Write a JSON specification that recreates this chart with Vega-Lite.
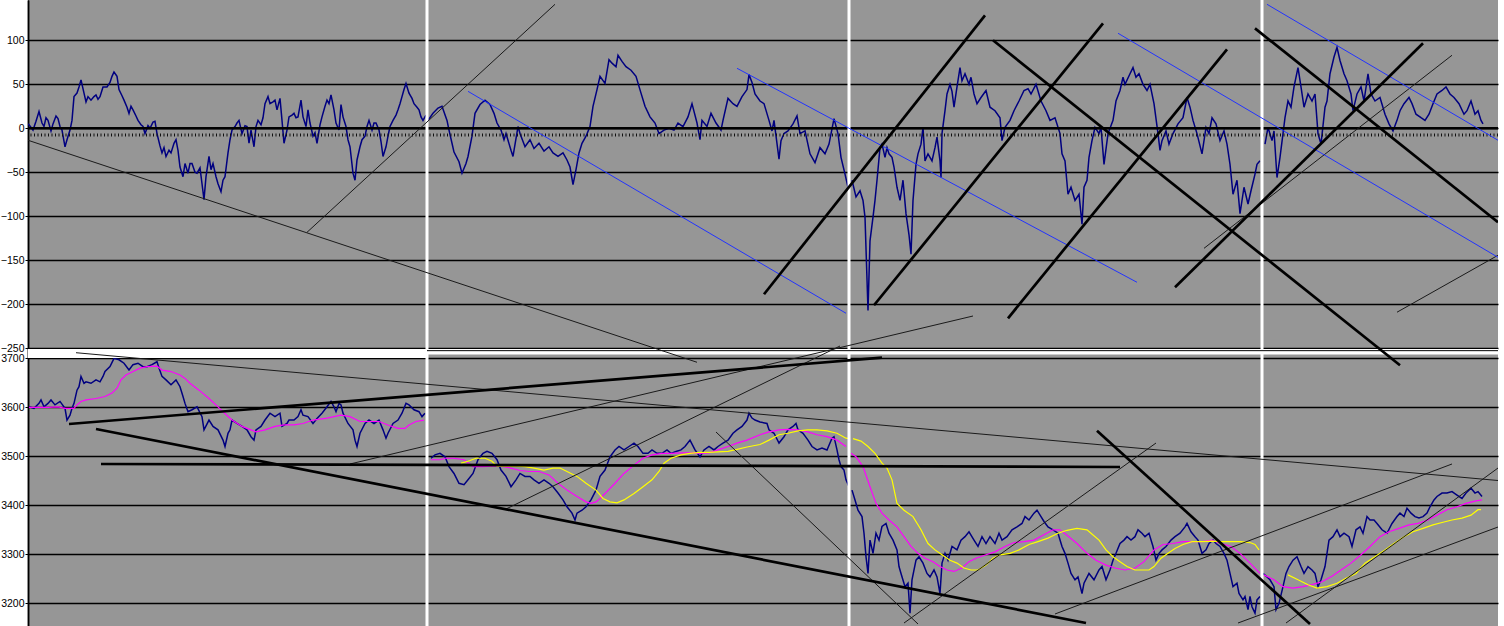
{
"$schema": "https://vega.github.io/schema/vega-lite/v6.json",
"width": 1470, "height": 626,
"autosize": {"type": "none"},
"padding": {"left": 28, "top": 0, "right": 6, "bottom": 0},
"background": "white",
"config": {"view": {"fill": "#969696", "stroke": null}},
"datasets": {
"osc": [
{"t":0,"v":5,"g":1},{"t":1,"v":4,"g":1},{"t":5,"v":-2,"g":1},{"t":8,"v":8,"g":1},{"t":11,"v":19,"g":1},{"t":14,"v":6,"g":1},{"t":16,"v":2,"g":1},{"t":18,"v":12,"g":1},{"t":20,"v":9,"g":1},{"t":23,"v":-3,"g":1},{"t":25,"v":5,"g":1},{"t":28,"v":14,"g":1},{"t":30,"v":11,"g":1},{"t":32,"v":2,"g":1},{"t":34,"v":-2,"g":1},{"t":37,"v":-21,"g":1},{"t":39,"v":-13,"g":1},{"t":42,"v":-2,"g":1},{"t":44,"v":9,"g":1},{"t":46,"v":36,"g":1},{"t":49,"v":40,"g":1},{"t":51,"v":47,"g":1},{"t":53,"v":55,"g":1},{"t":56,"v":40,"g":1},{"t":58,"v":30,"g":1},{"t":60,"v":36,"g":1},{"t":63,"v":32,"g":1},{"t":66,"v":36,"g":1},{"t":68,"v":38,"g":1},{"t":70,"v":33,"g":1},{"t":72,"v":36,"g":1},{"t":75,"v":47,"g":1},{"t":79,"v":47,"g":1},{"t":82,"v":52,"g":1},{"t":84,"v":59,"g":1},{"t":86,"v":64,"g":1},{"t":89,"v":59,"g":1},{"t":91,"v":44,"g":1},{"t":94,"v":37,"g":1},{"t":96,"v":32,"g":1},{"t":99,"v":24,"g":1},{"t":101,"v":17,"g":1},{"t":103,"v":25,"g":1},{"t":105,"v":21,"g":1},{"t":108,"v":14,"g":1},{"t":110,"v":9,"g":1},{"t":113,"v":4,"g":1},{"t":115,"v":2,"g":1},{"t":117,"v":-6,"g":1},{"t":120,"v":3,"g":1},{"t":122,"v":0,"g":1},{"t":125,"v":7,"g":1},{"t":127,"v":8,"g":1},{"t":129,"v":-6,"g":1},{"t":132,"v":-20,"g":1},{"t":134,"v":-28,"g":1},{"t":136,"v":-22,"g":1},{"t":138,"v":-32,"g":1},{"t":141,"v":-25,"g":1},{"t":143,"v":-28,"g":1},{"t":146,"v":-17,"g":1},{"t":148,"v":-13,"g":1},{"t":150,"v":-25,"g":1},{"t":152,"v":-44,"g":1},{"t":155,"v":-55,"g":1},{"t":157,"v":-40,"g":1},{"t":160,"v":-51,"g":1},{"t":162,"v":-40,"g":1},{"t":164,"v":-40,"g":1},{"t":167,"v":-50,"g":1},{"t":169,"v":-51,"g":1},{"t":172,"v":-45,"g":1},{"t":174,"v":-63,"g":1},{"t":176,"v":-81,"g":1},{"t":178,"v":-55,"g":1},{"t":181,"v":-32,"g":1},{"t":183,"v":-47,"g":1},{"t":185,"v":-40,"g":1},{"t":188,"v":-55,"g":1},{"t":190,"v":-63,"g":1},{"t":193,"v":-72,"g":1},{"t":195,"v":-59,"g":1},{"t":197,"v":-55,"g":1},{"t":200,"v":-28,"g":1},{"t":202,"v":-13,"g":1},{"t":204,"v":-2,"g":1},{"t":207,"v":2,"g":1},{"t":209,"v":6,"g":1},{"t":211,"v":9,"g":1},{"t":214,"v":-6,"g":1},{"t":217,"v":3,"g":1},{"t":219,"v":2,"g":1},{"t":221,"v":-17,"g":1},{"t":223,"v":-2,"g":1},{"t":226,"v":-21,"g":1},{"t":228,"v":2,"g":1},{"t":230,"v":9,"g":1},{"t":233,"v":4,"g":1},{"t":235,"v":12,"g":1},{"t":237,"v":28,"g":1},{"t":240,"v":36,"g":1},{"t":242,"v":28,"g":1},{"t":245,"v":30,"g":1},{"t":247,"v":32,"g":1},{"t":249,"v":21,"g":1},{"t":252,"v":34,"g":1},{"t":254,"v":9,"g":1},{"t":256,"v":-17,"g":1},{"t":259,"v":-2,"g":1},{"t":261,"v":13,"g":1},{"t":264,"v":15,"g":1},{"t":266,"v":17,"g":1},{"t":268,"v":12,"g":1},{"t":270,"v":13,"g":1},{"t":273,"v":32,"g":1},{"t":275,"v":13,"g":1},{"t":278,"v":2,"g":1},{"t":280,"v":21,"g":1},{"t":282,"v":6,"g":1},{"t":285,"v":-9,"g":1},{"t":287,"v":-5,"g":1},{"t":289,"v":-17,"g":1},{"t":292,"v":4,"g":1},{"t":294,"v":13,"g":1},{"t":297,"v":25,"g":1},{"t":299,"v":32,"g":1},{"t":301,"v":28,"g":1},{"t":303,"v":38,"g":1},{"t":306,"v":21,"g":1},{"t":308,"v":6,"g":1},{"t":311,"v":-2,"g":1},{"t":313,"v":27,"g":1},{"t":315,"v":13,"g":1},{"t":318,"v":2,"g":1},{"t":320,"v":-13,"g":1},{"t":322,"v":-21,"g":1},{"t":325,"v":-51,"g":1},{"t":327,"v":-59,"g":1},{"t":329,"v":-36,"g":1},{"t":332,"v":-21,"g":1},{"t":334,"v":-13,"g":1},{"t":337,"v":-9,"g":1},{"t":339,"v":2,"g":1},{"t":341,"v":9,"g":1},{"t":344,"v":-2,"g":1},{"t":346,"v":6,"g":1},{"t":348,"v":6,"g":1},{"t":351,"v":-2,"g":1},{"t":353,"v":-15,"g":1},{"t":355,"v":-32,"g":1},{"t":358,"v":-21,"g":1},{"t":360,"v":-9,"g":1},{"t":362,"v":2,"g":1},{"t":365,"v":9,"g":1},{"t":368,"v":15,"g":1},{"t":370,"v":21,"g":1},{"t":372,"v":28,"g":1},{"t":374,"v":36,"g":1},{"t":376,"v":44,"g":1},{"t":378,"v":51,"g":1},{"t":381,"v":40,"g":1},{"t":384,"v":34,"g":1},{"t":386,"v":28,"g":1},{"t":389,"v":24,"g":1},{"t":391,"v":21,"g":1},{"t":393,"v":13,"g":1},{"t":395,"v":9,"g":1},{"t":398,"v":15,"g":1},
{"t":400,"v":9,"g":2},{"t":405,"v":17,"g":2},{"t":410,"v":23,"g":2},{"t":414,"v":25,"g":2},{"t":419,"v":9,"g":2},{"t":421,"v":-2,"g":2},{"t":424,"v":-17,"g":2},{"t":426,"v":-27,"g":2},{"t":431,"v":-38,"g":2},{"t":434,"v":-51,"g":2},{"t":438,"v":-40,"g":2},{"t":440,"v":-32,"g":2},{"t":444,"v":-9,"g":2},{"t":447,"v":17,"g":2},{"t":452,"v":27,"g":2},{"t":457,"v":32,"g":2},{"t":462,"v":27,"g":2},{"t":466,"v":17,"g":2},{"t":469,"v":6,"g":2},{"t":473,"v":-2,"g":2},{"t":476,"v":-13,"g":2},{"t":478,"v":-6,"g":2},{"t":483,"v":-25,"g":2},{"t":485,"v":-32,"g":2},{"t":490,"v":2,"g":2},{"t":492,"v":-6,"g":2},{"t":497,"v":-21,"g":2},{"t":502,"v":-13,"g":2},{"t":506,"v":-23,"g":2},{"t":511,"v":-17,"g":2},{"t":516,"v":-26,"g":2},{"t":521,"v":-21,"g":2},{"t":525,"v":-28,"g":2},{"t":530,"v":-32,"g":2},{"t":535,"v":-28,"g":2},{"t":539,"v":-36,"g":2},{"t":542,"v":-44,"g":2},{"t":545,"v":-64,"g":2},{"t":548,"v":-47,"g":2},{"t":551,"v":-28,"g":2},{"t":554,"v":-17,"g":2},{"t":558,"v":-9,"g":2},{"t":562,"v":2,"g":2},{"t":565,"v":25,"g":2},{"t":569,"v":44,"g":2},{"t":572,"v":59,"g":2},{"t":577,"v":51,"g":2},{"t":581,"v":78,"g":2},{"t":584,"v":74,"g":2},{"t":588,"v":70,"g":2},{"t":590,"v":83,"g":2},{"t":594,"v":76,"g":2},{"t":598,"v":70,"g":2},{"t":603,"v":66,"g":2},{"t":608,"v":59,"g":2},{"t":613,"v":40,"g":2},{"t":617,"v":25,"g":2},{"t":622,"v":13,"g":2},{"t":627,"v":6,"g":2},{"t":631,"v":-6,"g":2},{"t":636,"v":-2,"g":2},{"t":641,"v":0,"g":2},{"t":646,"v":-2,"g":2},{"t":650,"v":6,"g":2},{"t":655,"v":2,"g":2},{"t":660,"v":13,"g":2},{"t":664,"v":28,"g":2},{"t":669,"v":6,"g":2},{"t":672,"v":-13,"g":2},{"t":674,"v":9,"g":2},{"t":679,"v":2,"g":2},{"t":683,"v":17,"g":2},{"t":688,"v":6,"g":2},{"t":693,"v":-2,"g":2},{"t":695,"v":9,"g":2},{"t":700,"v":34,"g":2},{"t":705,"v":28,"g":2},{"t":709,"v":25,"g":2},{"t":714,"v":36,"g":2},{"t":719,"v":44,"g":2},{"t":721,"v":61,"g":2},{"t":724,"v":52,"g":2},{"t":727,"v":39,"g":2},{"t":732,"v":31,"g":2},{"t":736,"v":28,"g":2},{"t":741,"v":9,"g":2},{"t":744,"v":-3,"g":2},{"t":746,"v":9,"g":2},{"t":751,"v":-35,"g":2},{"t":753,"v":-14,"g":2},{"t":756,"v":-6,"g":2},{"t":760,"v":-3,"g":2},{"t":765,"v":5,"g":2},{"t":769,"v":14,"g":2},{"t":772,"v":-6,"g":2},{"t":777,"v":-3,"g":2},{"t":782,"v":-29,"g":2},{"t":787,"v":-39,"g":2},{"t":792,"v":-22,"g":2},{"t":797,"v":-29,"g":2},{"t":801,"v":-18,"g":2},{"t":806,"v":11,"g":2},{"t":810,"v":-6,"g":2},{"t":813,"v":-33,"g":2},{"t":817,"v":-52,"g":2},{"t":820,"v":-67,"g":2},
{"t":824,"v":-59,"g":3},{"t":828,"v":-78,"g":3},{"t":832,"v":-71,"g":3},{"t":835,"v":-82,"g":3},{"t":837,"v":-101,"g":3},{"t":840,"v":-207,"g":3},{"t":842,"v":-128,"g":3},{"t":845,"v":-101,"g":3},{"t":847,"v":-82,"g":3},{"t":849,"v":-59,"g":3},{"t":852,"v":-22,"g":3},{"t":854,"v":-18,"g":3},{"t":857,"v":-33,"g":3},{"t":859,"v":-22,"g":3},{"t":861,"v":-29,"g":3},{"t":864,"v":-33,"g":3},{"t":866,"v":-44,"g":3},{"t":869,"v":-67,"g":3},{"t":872,"v":-82,"g":3},{"t":875,"v":-59,"g":3},{"t":878,"v":-97,"g":3},{"t":881,"v":-121,"g":3},{"t":883,"v":-143,"g":3},{"t":885,"v":-82,"g":3},{"t":888,"v":-41,"g":3},{"t":890,"v":-29,"g":3},{"t":893,"v":-18,"g":3},{"t":895,"v":1,"g":3},{"t":897,"v":-37,"g":3},{"t":900,"v":-29,"g":3},{"t":904,"v":-37,"g":3},{"t":907,"v":-22,"g":3},{"t":909,"v":-10,"g":3},{"t":912,"v":-37,"g":3},{"t":913,"v":-56,"g":3},{"t":914,"v":-6,"g":3},{"t":917,"v":20,"g":3},{"t":919,"v":39,"g":3},{"t":922,"v":50,"g":3},{"t":924,"v":42,"g":3},{"t":926,"v":24,"g":3},{"t":929,"v":47,"g":3},{"t":932,"v":69,"g":3},{"t":934,"v":54,"g":3},{"t":937,"v":62,"g":3},{"t":941,"v":50,"g":3},{"t":943,"v":58,"g":3},{"t":946,"v":39,"g":3},{"t":949,"v":28,"g":3},{"t":953,"v":35,"g":3},{"t":958,"v":43,"g":3},{"t":962,"v":24,"g":3},{"t":967,"v":20,"g":3},{"t":972,"v":12,"g":3},{"t":974,"v":-14,"g":3},{"t":977,"v":1,"g":3},{"t":982,"v":9,"g":3},{"t":986,"v":20,"g":3},{"t":991,"v":31,"g":3},{"t":996,"v":43,"g":3},{"t":1000,"v":45,"g":3},{"t":1003,"v":39,"g":3},{"t":1008,"v":50,"g":3},{"t":1013,"v":31,"g":3},{"t":1018,"v":20,"g":3},{"t":1022,"v":9,"g":3},{"t":1027,"v":12,"g":3},{"t":1032,"v":-6,"g":3},{"t":1034,"v":-29,"g":3},{"t":1037,"v":-37,"g":3},{"t":1040,"v":-75,"g":3},{"t":1043,"v":-67,"g":3},{"t":1047,"v":-82,"g":3},{"t":1051,"v":-75,"g":3},{"t":1054,"v":-109,"g":3},{"t":1056,"v":-67,"g":3},{"t":1059,"v":-59,"g":3},{"t":1061,"v":-33,"g":3},{"t":1064,"v":-14,"g":3},{"t":1067,"v":1,"g":3},{"t":1071,"v":-6,"g":3},{"t":1073,"v":1,"g":3},{"t":1076,"v":-41,"g":3},{"t":1080,"v":-6,"g":3},{"t":1085,"v":9,"g":3},{"t":1088,"v":31,"g":3},{"t":1092,"v":43,"g":3},{"t":1095,"v":58,"g":3},{"t":1097,"v":50,"g":3},{"t":1102,"v":62,"g":3},{"t":1105,"v":69,"g":3},{"t":1108,"v":58,"g":3},{"t":1111,"v":62,"g":3},{"t":1115,"v":50,"g":3},{"t":1119,"v":43,"g":3},{"t":1122,"v":50,"g":3},{"t":1126,"v":28,"g":3},{"t":1130,"v":-6,"g":3},{"t":1132,"v":-25,"g":3},{"t":1134,"v":-14,"g":3},{"t":1138,"v":-3,"g":3},{"t":1141,"v":-18,"g":3},{"t":1145,"v":-6,"g":3},{"t":1150,"v":5,"g":3},{"t":1155,"v":12,"g":3},{"t":1159,"v":35,"g":3},{"t":1162,"v":24,"g":3},{"t":1165,"v":9,"g":3},{"t":1169,"v":-6,"g":3},{"t":1174,"v":-29,"g":3},{"t":1178,"v":1,"g":3},{"t":1181,"v":-6,"g":3},{"t":1184,"v":12,"g":3},{"t":1188,"v":5,"g":3},{"t":1192,"v":-14,"g":3},{"t":1196,"v":-3,"g":3},{"t":1199,"v":-18,"g":3},{"t":1202,"v":-41,"g":3},{"t":1205,"v":-75,"g":3},{"t":1209,"v":-59,"g":3},{"t":1212,"v":-97,"g":3},{"t":1216,"v":-67,"g":3},{"t":1220,"v":-86,"g":3},{"t":1223,"v":-71,"g":3},{"t":1227,"v":-52,"g":3},{"t":1229,"v":-41,"g":3},{"t":1232,"v":-37,"g":3},
{"t":1237,"v":-18,"g":4},{"t":1240,"v":1,"g":4},{"t":1244,"v":-14,"g":4},{"t":1246,"v":-3,"g":4},{"t":1249,"v":-56,"g":4},{"t":1252,"v":-33,"g":4},{"t":1255,"v":-6,"g":4},{"t":1257,"v":12,"g":4},{"t":1260,"v":31,"g":4},{"t":1263,"v":24,"g":4},{"t":1266,"v":47,"g":4},{"t":1270,"v":69,"g":4},{"t":1273,"v":47,"g":4},{"t":1276,"v":24,"g":4},{"t":1280,"v":39,"g":4},{"t":1284,"v":31,"g":4},{"t":1287,"v":39,"g":4},{"t":1290,"v":-6,"g":4},{"t":1293,"v":-18,"g":4},{"t":1297,"v":24,"g":4},{"t":1299,"v":31,"g":4},{"t":1302,"v":62,"g":4},{"t":1306,"v":81,"g":4},{"t":1309,"v":92,"g":4},{"t":1312,"v":77,"g":4},{"t":1316,"v":62,"g":4},{"t":1319,"v":54,"g":4},{"t":1323,"v":39,"g":4},{"t":1325,"v":20,"g":4},{"t":1329,"v":39,"g":4},{"t":1333,"v":47,"g":4},{"t":1336,"v":31,"g":4},{"t":1340,"v":62,"g":4},{"t":1343,"v":39,"g":4},{"t":1347,"v":31,"g":4},{"t":1352,"v":35,"g":4},{"t":1357,"v":16,"g":4},{"t":1361,"v":5,"g":4},{"t":1365,"v":-3,"g":4},{"t":1369,"v":9,"g":4},{"t":1372,"v":20,"g":4},{"t":1376,"v":28,"g":4},{"t":1381,"v":35,"g":4},{"t":1384,"v":28,"g":4},{"t":1388,"v":16,"g":4},{"t":1393,"v":12,"g":4},{"t":1397,"v":9,"g":4},{"t":1401,"v":16,"g":4},{"t":1405,"v":28,"g":4},{"t":1409,"v":39,"g":4},{"t":1414,"v":43,"g":4},{"t":1418,"v":47,"g":4},{"t":1422,"v":39,"g":4},{"t":1426,"v":35,"g":4},{"t":1431,"v":28,"g":4},{"t":1436,"v":16,"g":4},{"t":1439,"v":20,"g":4},{"t":1443,"v":31,"g":4},{"t":1447,"v":16,"g":4},{"t":1450,"v":20,"g":4},{"t":1453,"v":9,"g":4},{"t":1455,"v":5,"g":4}
],
"px": [
{"t":1,"p":3601,"g":1},{"t":6,"p":3598,"g":1},{"t":11,"p":3608,"g":1},{"t":13,"p":3615,"g":1},{"t":16,"p":3601,"g":1},{"t":20,"p":3608,"g":1},{"t":23,"p":3615,"g":1},{"t":27,"p":3605,"g":1},{"t":32,"p":3612,"g":1},{"t":37,"p":3598,"g":1},{"t":39,"p":3574,"g":1},{"t":42,"p":3584,"g":1},{"t":44,"p":3598,"g":1},{"t":46,"p":3608,"g":1},{"t":49,"p":3635,"g":1},{"t":51,"p":3642,"g":1},{"t":53,"p":3663,"g":1},{"t":56,"p":3649,"g":1},{"t":58,"p":3652,"g":1},{"t":63,"p":3649,"g":1},{"t":68,"p":3656,"g":1},{"t":72,"p":3652,"g":1},{"t":75,"p":3663,"g":1},{"t":77,"p":3673,"g":1},{"t":82,"p":3683,"g":1},{"t":86,"p":3700,"g":1},{"t":91,"p":3697,"g":1},{"t":96,"p":3690,"g":1},{"t":101,"p":3676,"g":1},{"t":105,"p":3687,"g":1},{"t":110,"p":3690,"g":1},{"t":115,"p":3683,"g":1},{"t":119,"p":3683,"g":1},{"t":124,"p":3687,"g":1},{"t":129,"p":3693,"g":1},{"t":131,"p":3680,"g":1},{"t":134,"p":3663,"g":1},{"t":138,"p":3656,"g":1},{"t":143,"p":3646,"g":1},{"t":148,"p":3656,"g":1},{"t":152,"p":3642,"g":1},{"t":155,"p":3622,"g":1},{"t":157,"p":3608,"g":1},{"t":160,"p":3591,"g":1},{"t":164,"p":3595,"g":1},{"t":169,"p":3601,"g":1},{"t":174,"p":3581,"g":1},{"t":176,"p":3554,"g":1},{"t":181,"p":3574,"g":1},{"t":185,"p":3561,"g":1},{"t":190,"p":3554,"g":1},{"t":195,"p":3533,"g":1},{"t":197,"p":3520,"g":1},{"t":200,"p":3547,"g":1},{"t":202,"p":3554,"g":1},{"t":204,"p":3574,"g":1},{"t":209,"p":3567,"g":1},{"t":214,"p":3561,"g":1},{"t":219,"p":3554,"g":1},{"t":223,"p":3540,"g":1},{"t":226,"p":3533,"g":1},{"t":228,"p":3554,"g":1},{"t":233,"p":3561,"g":1},{"t":237,"p":3574,"g":1},{"t":242,"p":3588,"g":1},{"t":247,"p":3581,"g":1},{"t":252,"p":3588,"g":1},{"t":254,"p":3561,"g":1},{"t":259,"p":3567,"g":1},{"t":261,"p":3574,"g":1},{"t":266,"p":3574,"g":1},{"t":270,"p":3581,"g":1},{"t":273,"p":3595,"g":1},{"t":275,"p":3584,"g":1},{"t":280,"p":3581,"g":1},{"t":285,"p":3567,"g":1},{"t":289,"p":3577,"g":1},{"t":294,"p":3588,"g":1},{"t":299,"p":3601,"g":1},{"t":303,"p":3612,"g":1},{"t":306,"p":3601,"g":1},{"t":308,"p":3591,"g":1},{"t":311,"p":3608,"g":1},{"t":313,"p":3605,"g":1},{"t":315,"p":3588,"g":1},{"t":320,"p":3567,"g":1},{"t":325,"p":3554,"g":1},{"t":327,"p":3533,"g":1},{"t":329,"p":3520,"g":1},{"t":332,"p":3547,"g":1},{"t":337,"p":3567,"g":1},{"t":341,"p":3574,"g":1},{"t":346,"p":3567,"g":1},{"t":351,"p":3574,"g":1},{"t":355,"p":3554,"g":1},{"t":358,"p":3537,"g":1},{"t":360,"p":3547,"g":1},{"t":365,"p":3567,"g":1},{"t":370,"p":3574,"g":1},{"t":374,"p":3588,"g":1},{"t":378,"p":3608,"g":1},{"t":381,"p":3605,"g":1},{"t":386,"p":3595,"g":1},{"t":391,"p":3591,"g":1},{"t":394,"p":3581,"g":1},{"t":397,"p":3588,"g":1},
{"t":403,"p":3496,"g":2},{"t":407,"p":3503,"g":2},{"t":412,"p":3506,"g":2},{"t":417,"p":3499,"g":2},{"t":421,"p":3479,"g":2},{"t":426,"p":3465,"g":2},{"t":431,"p":3445,"g":2},{"t":436,"p":3442,"g":2},{"t":440,"p":3452,"g":2},{"t":445,"p":3465,"g":2},{"t":450,"p":3493,"g":2},{"t":455,"p":3506,"g":2},{"t":459,"p":3510,"g":2},{"t":464,"p":3506,"g":2},{"t":469,"p":3493,"g":2},{"t":473,"p":3472,"g":2},{"t":478,"p":3459,"g":2},{"t":483,"p":3438,"g":2},{"t":488,"p":3452,"g":2},{"t":492,"p":3465,"g":2},{"t":497,"p":3459,"g":2},{"t":502,"p":3459,"g":2},{"t":506,"p":3452,"g":2},{"t":511,"p":3445,"g":2},{"t":516,"p":3452,"g":2},{"t":521,"p":3445,"g":2},{"t":525,"p":3438,"g":2},{"t":530,"p":3425,"g":2},{"t":535,"p":3411,"g":2},{"t":539,"p":3397,"g":2},{"t":544,"p":3384,"g":2},{"t":547,"p":3370,"g":2},{"t":549,"p":3384,"g":2},{"t":554,"p":3390,"g":2},{"t":558,"p":3397,"g":2},{"t":563,"p":3411,"g":2},{"t":568,"p":3431,"g":2},{"t":572,"p":3459,"g":2},{"t":577,"p":3472,"g":2},{"t":582,"p":3499,"g":2},{"t":587,"p":3513,"g":2},{"t":591,"p":3520,"g":2},{"t":596,"p":3513,"g":2},{"t":601,"p":3520,"g":2},{"t":606,"p":3527,"g":2},{"t":610,"p":3520,"g":2},{"t":615,"p":3506,"g":2},{"t":620,"p":3506,"g":2},{"t":624,"p":3513,"g":2},{"t":629,"p":3506,"g":2},{"t":634,"p":3506,"g":2},{"t":639,"p":3513,"g":2},{"t":643,"p":3506,"g":2},{"t":648,"p":3510,"g":2},{"t":653,"p":3513,"g":2},{"t":657,"p":3520,"g":2},{"t":662,"p":3533,"g":2},{"t":667,"p":3513,"g":2},{"t":672,"p":3499,"g":2},{"t":676,"p":3513,"g":2},{"t":681,"p":3520,"g":2},{"t":686,"p":3513,"g":2},{"t":690,"p":3520,"g":2},{"t":695,"p":3527,"g":2},{"t":700,"p":3533,"g":2},{"t":705,"p":3547,"g":2},{"t":709,"p":3554,"g":2},{"t":714,"p":3561,"g":2},{"t":719,"p":3574,"g":2},{"t":721,"p":3588,"g":2},{"t":724,"p":3578,"g":2},{"t":727,"p":3574,"g":2},{"t":732,"p":3570,"g":2},{"t":739,"p":3567,"g":2},{"t":741,"p":3554,"g":2},{"t":746,"p":3547,"g":2},{"t":751,"p":3527,"g":2},{"t":756,"p":3540,"g":2},{"t":760,"p":3554,"g":2},{"t":765,"p":3561,"g":2},{"t":768,"p":3567,"g":2},{"t":770,"p":3554,"g":2},{"t":775,"p":3547,"g":2},{"t":780,"p":3533,"g":2},{"t":784,"p":3520,"g":2},{"t":789,"p":3513,"g":2},{"t":794,"p":3517,"g":2},{"t":799,"p":3513,"g":2},{"t":804,"p":3537,"g":2},{"t":806,"p":3540,"g":2},{"t":809,"p":3513,"g":2},{"t":811,"p":3493,"g":2},{"t":813,"p":3479,"g":2},{"t":816,"p":3472,"g":2},{"t":818,"p":3452,"g":2},{"t":821,"p":3438,"g":2},
{"t":824,"p":3431,"g":3},{"t":827,"p":3411,"g":3},{"t":830,"p":3390,"g":3},{"t":834,"p":3377,"g":3},{"t":836,"p":3343,"g":3},{"t":838,"p":3295,"g":3},{"t":840,"p":3261,"g":3},{"t":842,"p":3329,"g":3},{"t":845,"p":3302,"g":3},{"t":848,"p":3343,"g":3},{"t":851,"p":3329,"g":3},{"t":854,"p":3357,"g":3},{"t":858,"p":3363,"g":3},{"t":861,"p":3343,"g":3},{"t":865,"p":3329,"g":3},{"t":869,"p":3309,"g":3},{"t":871,"p":3275,"g":3},{"t":873,"p":3261,"g":3},{"t":877,"p":3234,"g":3},{"t":880,"p":3241,"g":3},{"t":882,"p":3180,"g":3},{"t":884,"p":3248,"g":3},{"t":888,"p":3288,"g":3},{"t":891,"p":3295,"g":3},{"t":895,"p":3282,"g":3},{"t":899,"p":3261,"g":3},{"t":902,"p":3254,"g":3},{"t":906,"p":3268,"g":3},{"t":909,"p":3254,"g":3},{"t":912,"p":3220,"g":3},{"t":914,"p":3282,"g":3},{"t":917,"p":3302,"g":3},{"t":920,"p":3288,"g":3},{"t":924,"p":3316,"g":3},{"t":929,"p":3309,"g":3},{"t":933,"p":3329,"g":3},{"t":937,"p":3336,"g":3},{"t":941,"p":3346,"g":3},{"t":946,"p":3329,"g":3},{"t":950,"p":3316,"g":3},{"t":954,"p":3336,"g":3},{"t":958,"p":3322,"g":3},{"t":962,"p":3336,"g":3},{"t":967,"p":3322,"g":3},{"t":971,"p":3343,"g":3},{"t":974,"p":3329,"g":3},{"t":979,"p":3336,"g":3},{"t":984,"p":3350,"g":3},{"t":989,"p":3356,"g":3},{"t":994,"p":3363,"g":3},{"t":997,"p":3377,"g":3},{"t":1001,"p":3370,"g":3},{"t":1006,"p":3384,"g":3},{"t":1009,"p":3390,"g":3},{"t":1013,"p":3377,"g":3},{"t":1016,"p":3367,"g":3},{"t":1020,"p":3356,"g":3},{"t":1025,"p":3350,"g":3},{"t":1030,"p":3343,"g":3},{"t":1034,"p":3316,"g":3},{"t":1037,"p":3302,"g":3},{"t":1040,"p":3282,"g":3},{"t":1043,"p":3261,"g":3},{"t":1047,"p":3248,"g":3},{"t":1050,"p":3254,"g":3},{"t":1054,"p":3220,"g":3},{"t":1056,"p":3241,"g":3},{"t":1061,"p":3261,"g":3},{"t":1066,"p":3248,"g":3},{"t":1071,"p":3268,"g":3},{"t":1074,"p":3275,"g":3},{"t":1078,"p":3248,"g":3},{"t":1082,"p":3268,"g":3},{"t":1085,"p":3288,"g":3},{"t":1088,"p":3302,"g":3},{"t":1092,"p":3322,"g":3},{"t":1096,"p":3329,"g":3},{"t":1099,"p":3336,"g":3},{"t":1103,"p":3329,"g":3},{"t":1107,"p":3336,"g":3},{"t":1110,"p":3350,"g":3},{"t":1114,"p":3343,"g":3},{"t":1117,"p":3336,"g":3},{"t":1121,"p":3343,"g":3},{"t":1125,"p":3316,"g":3},{"t":1128,"p":3288,"g":3},{"t":1131,"p":3302,"g":3},{"t":1134,"p":3309,"g":3},{"t":1138,"p":3316,"g":3},{"t":1143,"p":3329,"g":3},{"t":1147,"p":3336,"g":3},{"t":1152,"p":3343,"g":3},{"t":1157,"p":3356,"g":3},{"t":1159,"p":3363,"g":3},{"t":1163,"p":3346,"g":3},{"t":1167,"p":3336,"g":3},{"t":1170,"p":3329,"g":3},{"t":1174,"p":3302,"g":3},{"t":1178,"p":3309,"g":3},{"t":1181,"p":3322,"g":3},{"t":1185,"p":3329,"g":3},{"t":1188,"p":3322,"g":3},{"t":1192,"p":3316,"g":3},{"t":1196,"p":3302,"g":3},{"t":1199,"p":3288,"g":3},{"t":1202,"p":3261,"g":3},{"t":1205,"p":3234,"g":3},{"t":1209,"p":3241,"g":3},{"t":1211,"p":3220,"g":3},{"t":1215,"p":3207,"g":3},{"t":1217,"p":3214,"g":3},{"t":1220,"p":3187,"g":3},{"t":1222,"p":3214,"g":3},{"t":1224,"p":3193,"g":3},{"t":1227,"p":3180,"g":3},{"t":1229,"p":3207,"g":3},{"t":1232,"p":3214,"g":3},
{"t":1235,"p":3261,"g":4},{"t":1239,"p":3254,"g":4},{"t":1242,"p":3248,"g":4},{"t":1246,"p":3234,"g":4},{"t":1248,"p":3187,"g":4},{"t":1251,"p":3200,"g":4},{"t":1255,"p":3234,"g":4},{"t":1258,"p":3261,"g":4},{"t":1261,"p":3275,"g":4},{"t":1265,"p":3288,"g":4},{"t":1269,"p":3295,"g":4},{"t":1273,"p":3275,"g":4},{"t":1276,"p":3261,"g":4},{"t":1280,"p":3275,"g":4},{"t":1284,"p":3268,"g":4},{"t":1287,"p":3261,"g":4},{"t":1290,"p":3234,"g":4},{"t":1293,"p":3248,"g":4},{"t":1297,"p":3275,"g":4},{"t":1299,"p":3302,"g":4},{"t":1301,"p":3329,"g":4},{"t":1305,"p":3336,"g":4},{"t":1309,"p":3350,"g":4},{"t":1312,"p":3336,"g":4},{"t":1316,"p":3343,"g":4},{"t":1321,"p":3336,"g":4},{"t":1324,"p":3316,"g":4},{"t":1328,"p":3350,"g":4},{"t":1332,"p":3356,"g":4},{"t":1335,"p":3343,"g":4},{"t":1339,"p":3377,"g":4},{"t":1342,"p":3370,"g":4},{"t":1346,"p":3370,"g":4},{"t":1349,"p":3363,"g":4},{"t":1354,"p":3350,"g":4},{"t":1359,"p":3343,"g":4},{"t":1364,"p":3363,"g":4},{"t":1369,"p":3377,"g":4},{"t":1372,"p":3384,"g":4},{"t":1376,"p":3377,"g":4},{"t":1379,"p":3394,"g":4},{"t":1383,"p":3384,"g":4},{"t":1387,"p":3377,"g":4},{"t":1391,"p":3374,"g":4},{"t":1395,"p":3377,"g":4},{"t":1399,"p":3384,"g":4},{"t":1402,"p":3397,"g":4},{"t":1406,"p":3411,"g":4},{"t":1409,"p":3418,"g":4},{"t":1414,"p":3425,"g":4},{"t":1419,"p":3425,"g":4},{"t":1424,"p":3428,"g":4},{"t":1429,"p":3421,"g":4},{"t":1434,"p":3414,"g":4},{"t":1438,"p":3425,"g":4},{"t":1443,"p":3435,"g":4},{"t":1447,"p":3425,"g":4},{"t":1450,"p":3428,"g":4},{"t":1454,"p":3418,"g":4}
],
"ma": [
{"t":1,"p":3600,"g":1,"m":"a"},{"t":20,"p":3600,"g":1,"m":"a"},{"t":30,"p":3601,"g":1,"m":"a"},{"t":37,"p":3598,"g":1,"m":"a"},{"t":46,"p":3598,"g":1,"m":"a"},{"t":49,"p":3605,"g":1,"m":"a"},{"t":53,"p":3612,"g":1,"m":"a"},{"t":58,"p":3615,"g":1,"m":"a"},{"t":68,"p":3618,"g":1,"m":"a"},{"t":77,"p":3622,"g":1,"m":"a"},{"t":84,"p":3629,"g":1,"m":"a"},{"t":89,"p":3639,"g":1,"m":"a"},{"t":93,"p":3656,"g":1,"m":"a"},{"t":98,"p":3666,"g":1,"m":"a"},{"t":105,"p":3673,"g":1,"m":"a"},{"t":112,"p":3680,"g":1,"m":"a"},{"t":119,"p":3683,"g":1,"m":"a"},{"t":129,"p":3684,"g":1,"m":"a"},{"t":134,"p":3676,"g":1,"m":"a"},{"t":143,"p":3673,"g":1,"m":"a"},{"t":152,"p":3666,"g":1,"m":"a"},{"t":157,"p":3659,"g":1,"m":"a"},{"t":162,"p":3649,"g":1,"m":"a"},{"t":171,"p":3635,"g":1,"m":"a"},{"t":181,"p":3618,"g":1,"m":"a"},{"t":190,"p":3601,"g":1,"m":"a"},{"t":195,"p":3591,"g":1,"m":"a"},{"t":204,"p":3574,"g":1,"m":"a"},{"t":214,"p":3561,"g":1,"m":"a"},{"t":223,"p":3554,"g":1,"m":"a"},{"t":228,"p":3550,"g":1,"m":"a"},{"t":237,"p":3554,"g":1,"m":"a"},{"t":247,"p":3561,"g":1,"m":"a"},{"t":256,"p":3564,"g":1,"m":"a"},{"t":266,"p":3564,"g":1,"m":"a"},{"t":275,"p":3567,"g":1,"m":"a"},{"t":285,"p":3574,"g":1,"m":"a"},{"t":299,"p":3578,"g":1,"m":"a"},{"t":313,"p":3584,"g":1,"m":"a"},{"t":322,"p":3581,"g":1,"m":"a"},{"t":332,"p":3571,"g":1,"m":"a"},{"t":341,"p":3571,"g":1,"m":"a"},{"t":351,"p":3571,"g":1,"m":"a"},{"t":360,"p":3564,"g":1,"m":"a"},{"t":370,"p":3557,"g":1,"m":"a"},{"t":377,"p":3557,"g":1,"m":"a"},{"t":381,"p":3564,"g":1,"m":"a"},{"t":388,"p":3571,"g":1,"m":"a"},{"t":396,"p":3574,"g":1,"m":"a"},
{"t":403,"p":3493,"g":2,"m":"a"},{"t":412,"p":3493,"g":2,"m":"a"},{"t":417,"p":3496,"g":2,"m":"a"},{"t":426,"p":3496,"g":2,"m":"a"},{"t":436,"p":3493,"g":2,"m":"a"},{"t":445,"p":3479,"g":2,"m":"a"},{"t":455,"p":3479,"g":2,"m":"a"},{"t":464,"p":3480,"g":2,"m":"a"},{"t":473,"p":3480,"g":2,"m":"a"},{"t":483,"p":3476,"g":2,"m":"a"},{"t":492,"p":3471,"g":2,"m":"a"},{"t":502,"p":3469,"g":2,"m":"a"},{"t":511,"p":3469,"g":2,"m":"a"},{"t":521,"p":3462,"g":2,"m":"a"},{"t":530,"p":3445,"g":2,"m":"a"},{"t":539,"p":3431,"g":2,"m":"a"},{"t":549,"p":3418,"g":2,"m":"a"},{"t":558,"p":3407,"g":2,"m":"a"},{"t":563,"p":3404,"g":2,"m":"a"},{"t":568,"p":3407,"g":2,"m":"a"},{"t":572,"p":3414,"g":2,"m":"a"},{"t":577,"p":3424,"g":2,"m":"a"},{"t":587,"p":3445,"g":2,"m":"a"},{"t":596,"p":3465,"g":2,"m":"a"},{"t":606,"p":3482,"g":2,"m":"a"},{"t":615,"p":3496,"g":2,"m":"a"},{"t":624,"p":3503,"g":2,"m":"a"},{"t":634,"p":3506,"g":2,"m":"a"},{"t":643,"p":3506,"g":2,"m":"a"},{"t":653,"p":3507,"g":2,"m":"a"},{"t":662,"p":3507,"g":2,"m":"a"},{"t":672,"p":3506,"g":2,"m":"a"},{"t":681,"p":3507,"g":2,"m":"a"},{"t":690,"p":3513,"g":2,"m":"a"},{"t":700,"p":3520,"g":2,"m":"a"},{"t":709,"p":3527,"g":2,"m":"a"},{"t":719,"p":3533,"g":2,"m":"a"},{"t":732,"p":3544,"g":2,"m":"a"},{"t":741,"p":3550,"g":2,"m":"a"},{"t":751,"p":3554,"g":2,"m":"a"},{"t":760,"p":3555,"g":2,"m":"a"},{"t":770,"p":3554,"g":2,"m":"a"},{"t":780,"p":3550,"g":2,"m":"a"},{"t":789,"p":3544,"g":2,"m":"a"},{"t":799,"p":3540,"g":2,"m":"a"},{"t":809,"p":3533,"g":2,"m":"a"},{"t":818,"p":3520,"g":2,"m":"a"},
{"t":823,"p":3506,"g":3,"m":"a"},{"t":828,"p":3499,"g":3,"m":"a"},{"t":835,"p":3479,"g":3,"m":"a"},{"t":842,"p":3438,"g":3,"m":"a"},{"t":848,"p":3404,"g":3,"m":"a"},{"t":854,"p":3384,"g":3,"m":"a"},{"t":861,"p":3370,"g":3,"m":"a"},{"t":869,"p":3356,"g":3,"m":"a"},{"t":876,"p":3336,"g":3,"m":"a"},{"t":883,"p":3316,"g":3,"m":"a"},{"t":890,"p":3302,"g":3,"m":"a"},{"t":897,"p":3292,"g":3,"m":"a"},{"t":905,"p":3285,"g":3,"m":"a"},{"t":912,"p":3275,"g":3,"m":"a"},{"t":919,"p":3268,"g":3,"m":"a"},{"t":926,"p":3265,"g":3,"m":"a"},{"t":934,"p":3272,"g":3,"m":"a"},{"t":941,"p":3285,"g":3,"m":"a"},{"t":948,"p":3292,"g":3,"m":"a"},{"t":958,"p":3299,"g":3,"m":"a"},{"t":967,"p":3305,"g":3,"m":"a"},{"t":977,"p":3316,"g":3,"m":"a"},{"t":986,"p":3324,"g":3,"m":"a"},{"t":996,"p":3326,"g":3,"m":"a"},{"t":1006,"p":3329,"g":3,"m":"a"},{"t":1015,"p":3339,"g":3,"m":"a"},{"t":1025,"p":3350,"g":3,"m":"a"},{"t":1032,"p":3350,"g":3,"m":"a"},{"t":1039,"p":3339,"g":3,"m":"a"},{"t":1049,"p":3322,"g":3,"m":"a"},{"t":1059,"p":3302,"g":3,"m":"a"},{"t":1068,"p":3288,"g":3,"m":"a"},{"t":1078,"p":3278,"g":3,"m":"a"},{"t":1087,"p":3272,"g":3,"m":"a"},{"t":1097,"p":3268,"g":3,"m":"a"},{"t":1107,"p":3272,"g":3,"m":"a"},{"t":1116,"p":3285,"g":3,"m":"a"},{"t":1126,"p":3309,"g":3,"m":"a"},{"t":1135,"p":3320,"g":3,"m":"a"},{"t":1145,"p":3322,"g":3,"m":"a"},{"t":1155,"p":3326,"g":3,"m":"a"},{"t":1164,"p":3326,"g":3,"m":"a"},{"t":1174,"p":3326,"g":3,"m":"a"},{"t":1184,"p":3329,"g":3,"m":"a"},{"t":1193,"p":3322,"g":3,"m":"a"},{"t":1203,"p":3316,"g":3,"m":"a"},{"t":1212,"p":3302,"g":3,"m":"a"},{"t":1222,"p":3282,"g":3,"m":"a"},{"t":1232,"p":3261,"g":3,"m":"a"},
{"t":1236,"p":3258,"g":4,"m":"a"},{"t":1246,"p":3248,"g":4,"m":"a"},{"t":1255,"p":3234,"g":4,"m":"a"},{"t":1265,"p":3231,"g":4,"m":"a"},{"t":1275,"p":3234,"g":4,"m":"a"},{"t":1284,"p":3238,"g":4,"m":"a"},{"t":1294,"p":3244,"g":4,"m":"a"},{"t":1304,"p":3255,"g":4,"m":"a"},{"t":1313,"p":3268,"g":4,"m":"a"},{"t":1323,"p":3282,"g":4,"m":"a"},{"t":1333,"p":3299,"g":4,"m":"a"},{"t":1342,"p":3316,"g":4,"m":"a"},{"t":1352,"p":3336,"g":4,"m":"a"},{"t":1361,"p":3346,"g":4,"m":"a"},{"t":1371,"p":3353,"g":4,"m":"a"},{"t":1381,"p":3360,"g":4,"m":"a"},{"t":1390,"p":3363,"g":4,"m":"a"},{"t":1400,"p":3370,"g":4,"m":"a"},{"t":1409,"p":3380,"g":4,"m":"a"},{"t":1419,"p":3391,"g":4,"m":"a"},{"t":1429,"p":3397,"g":4,"m":"a"},{"t":1438,"p":3404,"g":4,"m":"a"},{"t":1448,"p":3409,"g":4,"m":"a"},{"t":1454,"p":3411,"g":4,"m":"a"},
{"t":433,"p":3486,"g":2,"m":"b"},{"t":440,"p":3490,"g":2,"m":"b"},{"t":448,"p":3496,"g":2,"m":"b"},{"t":457,"p":3496,"g":2,"m":"b"},{"t":464,"p":3490,"g":2,"m":"b"},{"t":469,"p":3480,"g":2,"m":"b"},{"t":478,"p":3480,"g":2,"m":"b"},{"t":488,"p":3480,"g":2,"m":"b"},{"t":497,"p":3479,"g":2,"m":"b"},{"t":506,"p":3476,"g":2,"m":"b"},{"t":516,"p":3472,"g":2,"m":"b"},{"t":525,"p":3476,"g":2,"m":"b"},{"t":532,"p":3476,"g":2,"m":"b"},{"t":539,"p":3469,"g":2,"m":"b"},{"t":549,"p":3459,"g":2,"m":"b"},{"t":558,"p":3445,"g":2,"m":"b"},{"t":568,"p":3431,"g":2,"m":"b"},{"t":575,"p":3414,"g":2,"m":"b"},{"t":582,"p":3407,"g":2,"m":"b"},{"t":589,"p":3405,"g":2,"m":"b"},{"t":596,"p":3411,"g":2,"m":"b"},{"t":606,"p":3424,"g":2,"m":"b"},{"t":615,"p":3438,"g":2,"m":"b"},{"t":624,"p":3452,"g":2,"m":"b"},{"t":631,"p":3469,"g":2,"m":"b"},{"t":636,"p":3486,"g":2,"m":"b"},{"t":643,"p":3496,"g":2,"m":"b"},{"t":653,"p":3503,"g":2,"m":"b"},{"t":662,"p":3506,"g":2,"m":"b"},{"t":672,"p":3508,"g":2,"m":"b"},{"t":681,"p":3508,"g":2,"m":"b"},{"t":690,"p":3509,"g":2,"m":"b"},{"t":700,"p":3510,"g":2,"m":"b"},{"t":709,"p":3514,"g":2,"m":"b"},{"t":719,"p":3519,"g":2,"m":"b"},{"t":732,"p":3524,"g":2,"m":"b"},{"t":741,"p":3533,"g":2,"m":"b"},{"t":751,"p":3544,"g":2,"m":"b"},{"t":760,"p":3547,"g":2,"m":"b"},{"t":770,"p":3552,"g":2,"m":"b"},{"t":780,"p":3554,"g":2,"m":"b"},{"t":789,"p":3554,"g":2,"m":"b"},{"t":799,"p":3552,"g":2,"m":"b"},{"t":809,"p":3547,"g":2,"m":"b"},{"t":818,"p":3537,"g":2,"m":"b"},{"t":821,"p":3536,"g":2,"m":"b"},
{"t":825,"p":3536,"g":3,"m":"b"},{"t":833,"p":3531,"g":3,"m":"b"},{"t":840,"p":3520,"g":3,"m":"b"},{"t":847,"p":3506,"g":3,"m":"b"},{"t":854,"p":3486,"g":3,"m":"b"},{"t":859,"p":3476,"g":3,"m":"b"},{"t":864,"p":3452,"g":3,"m":"b"},{"t":869,"p":3404,"g":3,"m":"b"},{"t":876,"p":3390,"g":3,"m":"b"},{"t":885,"p":3377,"g":3,"m":"b"},{"t":893,"p":3350,"g":3,"m":"b"},{"t":900,"p":3322,"g":3,"m":"b"},{"t":907,"p":3309,"g":3,"m":"b"},{"t":914,"p":3299,"g":3,"m":"b"},{"t":922,"p":3288,"g":3,"m":"b"},{"t":929,"p":3282,"g":3,"m":"b"},{"t":936,"p":3272,"g":3,"m":"b"},{"t":943,"p":3268,"g":3,"m":"b"},{"t":950,"p":3268,"g":3,"m":"b"},{"t":958,"p":3278,"g":3,"m":"b"},{"t":965,"p":3292,"g":3,"m":"b"},{"t":972,"p":3299,"g":3,"m":"b"},{"t":982,"p":3302,"g":3,"m":"b"},{"t":991,"p":3309,"g":3,"m":"b"},{"t":1001,"p":3320,"g":3,"m":"b"},{"t":1010,"p":3326,"g":3,"m":"b"},{"t":1020,"p":3333,"g":3,"m":"b"},{"t":1030,"p":3343,"g":3,"m":"b"},{"t":1039,"p":3349,"g":3,"m":"b"},{"t":1049,"p":3353,"g":3,"m":"b"},{"t":1059,"p":3350,"g":3,"m":"b"},{"t":1063,"p":3343,"g":3,"m":"b"},{"t":1071,"p":3329,"g":3,"m":"b"},{"t":1078,"p":3309,"g":3,"m":"b"},{"t":1085,"p":3295,"g":3,"m":"b"},{"t":1092,"p":3285,"g":3,"m":"b"},{"t":1099,"p":3275,"g":3,"m":"b"},{"t":1107,"p":3268,"g":3,"m":"b"},{"t":1114,"p":3268,"g":3,"m":"b"},{"t":1121,"p":3268,"g":3,"m":"b"},{"t":1126,"p":3275,"g":3,"m":"b"},{"t":1133,"p":3292,"g":3,"m":"b"},{"t":1140,"p":3302,"g":3,"m":"b"},{"t":1147,"p":3312,"g":3,"m":"b"},{"t":1155,"p":3320,"g":3,"m":"b"},{"t":1164,"p":3326,"g":3,"m":"b"},{"t":1174,"p":3326,"g":3,"m":"b"},{"t":1184,"p":3327,"g":3,"m":"b"},{"t":1193,"p":3326,"g":3,"m":"b"},{"t":1203,"p":3326,"g":3,"m":"b"},{"t":1212,"p":3326,"g":3,"m":"b"},{"t":1222,"p":3324,"g":3,"m":"b"},{"t":1227,"p":3320,"g":3,"m":"b"},{"t":1231,"p":3309,"g":3,"m":"b"},
{"t":1260,"p":3258,"g":4,"m":"b"},{"t":1270,"p":3248,"g":4,"m":"b"},{"t":1280,"p":3238,"g":4,"m":"b"},{"t":1289,"p":3231,"g":4,"m":"b"},{"t":1299,"p":3234,"g":4,"m":"b"},{"t":1309,"p":3241,"g":4,"m":"b"},{"t":1318,"p":3251,"g":4,"m":"b"},{"t":1328,"p":3261,"g":4,"m":"b"},{"t":1337,"p":3282,"g":4,"m":"b"},{"t":1347,"p":3295,"g":4,"m":"b"},{"t":1357,"p":3309,"g":4,"m":"b"},{"t":1366,"p":3322,"g":4,"m":"b"},{"t":1376,"p":3336,"g":4,"m":"b"},{"t":1385,"p":3346,"g":4,"m":"b"},{"t":1395,"p":3353,"g":4,"m":"b"},{"t":1405,"p":3360,"g":4,"m":"b"},{"t":1414,"p":3365,"g":4,"m":"b"},{"t":1424,"p":3370,"g":4,"m":"b"},{"t":1434,"p":3374,"g":4,"m":"b"},{"t":1443,"p":3380,"g":4,"m":"b"},{"t":1450,"p":3391,"g":4,"m":"b"},{"t":1453,"p":3391,"g":4,"m":"b"}
],
"seps": [{"t":399},{"t":821},{"t":1234}],
"hrefs": [{"k":"zero","y":0},{"k":"dot","y":-7.6}],
"gaps": [{"t1":0,"t2":1470,"y1":-250.8,"y2":-257.0},{"t1":0,"t2":399,"y1":-250.8,"y2":-261.0}],
"gapline": [{"t1":399,"t2":1470,"y":-252.7}],
"toplines": [
{"t1":0,"y1":-13.6,"t2":669,"y2":-265.9,"k":"thin"},
{"t1":279,"y1":-118.2,"t2":527,"y2":140.9,"k":"thin"},
{"t1":440,"y1":42,"t2":818,"y2":-210.2,"k":"blue"},
{"t1":709,"y1":68.2,"t2":1109,"y2":-175,"k":"blue"},
{"t1":1239,"y1":140.9,"t2":1470,"y2":-13.6,"k":"blue"},
{"t1":1090,"y1":108,"t2":1470,"y2":-146.6,"k":"blue"},
{"t1":736,"y1":-188.6,"t2":957,"y2":128.4,"k":"thick"},
{"t1":846,"y1":-201.1,"t2":1075,"y2":119.3,"k":"thick"},
{"t1":980,"y1":-215.9,"t2":1199,"y2":89.8,"k":"thick"},
{"t1":1147,"y1":-180.7,"t2":1395,"y2":96.6,"k":"thick"},
{"t1":965,"y1":100,"t2":1372,"y2":-269.3,"k":"thick"},
{"t1":1227,"y1":113.6,"t2":1470,"y2":-106.8,"k":"thick"},
{"t1":1176,"y1":-136.4,"t2":1424,"y2":83,"k":"thin"},
{"t1":1369,"y1":-209,"t2":1470,"y2":-144.3,"k":"thin"}
],
"botlines": [
{"t1":48,"y1":3711.4,"t2":1470,"y2":3450.6,"k":"thin"},
{"t1":41,"y1":3565.9,"t2":854,"y2":3701.2,"k":"thick"},
{"t1":68,"y1":3555.7,"t2":1058,"y2":3159.8,"k":"thick"},
{"t1":73,"y1":3484.3,"t2":1092,"y2":3478.2,"k":"thick"},
{"t1":322,"y1":3484.3,"t2":945,"y2":3786.3,"k":"thin"},
{"t1":478,"y1":3392.4,"t2":812,"y2":3725.1,"k":"thin"},
{"t1":688,"y1":3549.6,"t2":890,"y2":3157.8,"k":"thin"},
{"t1":876,"y1":3159.8,"t2":1128,"y2":3527.1,"k":"thin"},
{"t1":1069,"y1":3552.2,"t2":1282,"y2":3157.8,"k":"thick"},
{"t1":1027,"y1":3178.2,"t2":1424,"y2":3484.3,"k":"thin"},
{"t1":1210,"y1":3159.8,"t2":1470,"y2":3355.7,"k":"thin"},
{"t1":1258,"y1":3159.8,"t2":1470,"y2":3476.1,"k":"thin"}
]
},
"resolve": {"scale": {"y": "independent"}, "axis": {"y": "independent"}},
"layer": [
{"data": {"name": "osc"},
 "mark": {"type": "line", "color": "#000080", "strokeWidth": 1.5, "clip": true},
 "encoding": {
   "x": {"field": "t", "type": "quantitative", "scale": {"domain": [0, 1470], "nice": false, "zero": false}, "axis": null},
   "y": {"field": "v", "type": "quantitative",
     "scale": {"domain": [-565.6, 145.8], "nice": false, "zero": false},
     "axis": {"orient": "left", "values": [100, 50, 0, -50, -100, -150, -200, -250], "format": "d", "grid": true, "gridColor": "#000000", "gridWidth": 1.3, "gridOpacity": 1, "domain": true, "domainColor": "#000000", "domainWidth": 1.5, "ticks": true, "tickColor": "#000000", "tickSize": 3, "labelPadding": 1, "labelFont": "Liberation Sans", "labelFontSize": 10.5, "labelColor": "#000000", "title": null, "labelOverlap": false}},
   "detail": {"field": "g", "type": "nominal"}}},
{"data": {"name": "px"},
 "mark": {"type": "line", "color": "#000080", "strokeWidth": 1.5, "clip": true},
 "encoding": {
   "x": {"field": "t", "type": "quantitative"},
   "y": {"field": "p", "type": "quantitative",
     "scale": {"domain": [3153.7, 4431.2], "nice": false, "zero": false},
     "axis": {"orient": "left", "values": [3700, 3600, 3500, 3400, 3300, 3200], "format": "d", "grid": true, "gridColor": "#000000", "gridWidth": 1.3, "gridOpacity": 1, "domain": true, "domainColor": "#000000", "domainWidth": 1.5, "ticks": true, "tickColor": "#000000", "tickSize": 3, "labelPadding": 1, "labelFont": "Liberation Sans", "labelFontSize": 10.5, "labelColor": "#000000", "title": null, "labelOverlap": false}},
   "detail": {"field": "g", "type": "nominal"}}},
{"data": {"name": "hrefs"},
 "transform": [{"filter": "datum.k == 'zero'"}],
 "mark": {"type": "rule", "color": "#000000", "strokeWidth": 2.5},
 "encoding": {
   "y": {"field": "y", "type": "quantitative", "scale": {"domain": [-565.6, 145.8], "nice": false, "zero": false}, "axis": null}}},
{"data": {"name": "hrefs"},
 "transform": [{"filter": "datum.k == 'dot'"}],
 "mark": {"type": "rule", "color": "#111111", "strokeWidth": 3, "strokeDash": [1, 2.5]},
 "encoding": {
   "y": {"field": "y", "type": "quantitative", "scale": {"domain": [-565.6, 145.8], "nice": false, "zero": false}, "axis": null}}},
{"data": {"name": "ma"},
 "mark": {"type": "line", "strokeWidth": 1.2, "clip": true},
 "encoding": {
   "x": {"field": "t", "type": "quantitative"},
   "y": {"field": "p", "type": "quantitative", "scale": {"domain": [3153.7, 4431.2], "nice": false, "zero": false}, "axis": null},
   "color": {"field": "m", "type": "nominal", "scale": {"domain": ["a", "b"], "range": ["#ff00ff", "#ffff00"]}, "legend": null},
   "detail": {"field": "g", "type": "nominal"}}},
{"data": {"name": "seps"},
 "mark": {"type": "rule", "color": "#ffffff", "strokeWidth": 3},
 "encoding": {"x": {"field": "t", "type": "quantitative"}}},
{"data": {"name": "gaps"},
 "mark": {"type": "rect", "color": "#ffffff"},
 "encoding": {"x": {"field": "t1", "type": "quantitative"}, "x2": {"field": "t2"},
   "y": {"field": "y1", "type": "quantitative", "scale": {"domain": [-565.6, 145.8], "nice": false, "zero": false}, "axis": null}, "y2": {"field": "y2"}}},
{"data": {"name": "gapline"},
 "mark": {"type": "rule", "color": "#000000", "strokeWidth": 1},
 "encoding": {"x": {"field": "t1", "type": "quantitative"}, "x2": {"field": "t2"},
   "y": {"field": "y", "type": "quantitative", "scale": {"domain": [-565.6, 145.8], "nice": false, "zero": false}, "axis": null}}},
{"data": {"name": "toplines"},
 "transform": [{"filter": "datum.k == 'thin'"}],
 "mark": {"type": "rule", "color": "#1a1a1a", "strokeWidth": 1, "clip": true},
 "encoding": {"x": {"field": "t1", "type": "quantitative"}, "x2": {"field": "t2"},
   "y": {"field": "y1", "type": "quantitative", "scale": {"domain": [-565.6, 145.8], "nice": false, "zero": false}, "axis": null}, "y2": {"field": "y2"}}},
{"data": {"name": "toplines"},
 "transform": [{"filter": "datum.k == 'blue'"}],
 "mark": {"type": "rule", "color": "#2233ff", "strokeWidth": 1, "clip": true},
 "encoding": {"x": {"field": "t1", "type": "quantitative"}, "x2": {"field": "t2"},
   "y": {"field": "y1", "type": "quantitative", "scale": {"domain": [-565.6, 145.8], "nice": false, "zero": false}, "axis": null}, "y2": {"field": "y2"}}},
{"data": {"name": "toplines"},
 "transform": [{"filter": "datum.k == 'thick'"}],
 "mark": {"type": "rule", "color": "#000000", "strokeWidth": 2.7, "clip": true},
 "encoding": {"x": {"field": "t1", "type": "quantitative"}, "x2": {"field": "t2"},
   "y": {"field": "y1", "type": "quantitative", "scale": {"domain": [-565.6, 145.8], "nice": false, "zero": false}, "axis": null}, "y2": {"field": "y2"}}},
{"data": {"name": "botlines"},
 "transform": [{"filter": "datum.k == 'thin'"}],
 "mark": {"type": "rule", "color": "#1a1a1a", "strokeWidth": 1, "clip": true},
 "encoding": {"x": {"field": "t1", "type": "quantitative"}, "x2": {"field": "t2"},
   "y": {"field": "y1", "type": "quantitative", "scale": {"domain": [3153.7, 4431.2], "nice": false, "zero": false}, "axis": null}, "y2": {"field": "y2"}}},
{"data": {"name": "botlines"},
 "transform": [{"filter": "datum.k == 'thick'"}],
 "mark": {"type": "rule", "color": "#000000", "strokeWidth": 2.7, "clip": true},
 "encoding": {"x": {"field": "t1", "type": "quantitative"}, "x2": {"field": "t2"},
   "y": {"field": "y1", "type": "quantitative", "scale": {"domain": [3153.7, 4431.2], "nice": false, "zero": false}, "axis": null}, "y2": {"field": "y2"}}}
]
}
